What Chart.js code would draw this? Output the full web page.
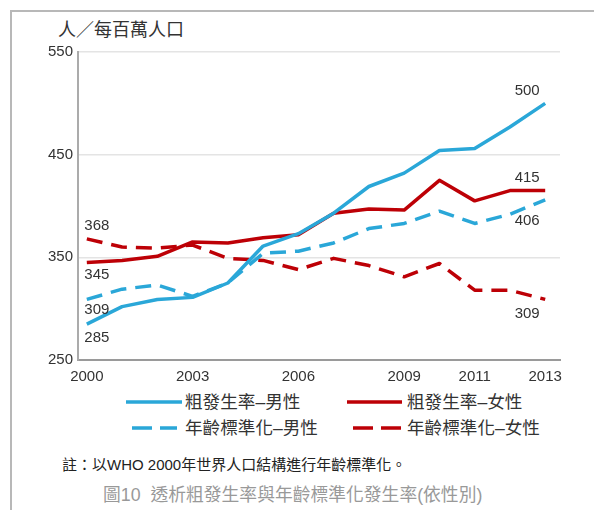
<!DOCTYPE html>
<html>
<head>
<meta charset="utf-8">
<script src="https://cdn.jsdelivr.net/npm/chart.js@4.4.0/dist/chart.umd.min.js"></script>
<style>
  body { margin: 0; background: #fff; }
  #page { position: relative; width: 594px; height: 510px; overflow: hidden;
    font-family: "Liberation Sans", Arial, "Noto Sans CJK TC", sans-serif; color: #333; }
  #frame { position: absolute; left: 10px; top: 10px; right: -10px; bottom: -10px;
    border-left: 2px solid #b8b8b8; border-top: 2px solid #b8b8b8; }
  #wrap { position: absolute; left: 0; top: 0; width: 594px; height: 390px; }
  .txt { position: absolute; white-space: nowrap; }
  .unit { left: 58px; top: 20px; font-size: 18px; line-height: 20px; color: #333; }
  .leg { font-size: 17.6px; line-height: 18px; color: #333; }
  .note { left: 62px; top: 456px; font-size: 15px; line-height: 18px; color: #222; }
  .cap { left: 103px; top: 485px; font-size: 17.8px; line-height: 20px; color: #999; }
  svg { position: absolute; }
</style>
</head>
<body>
<div id="page">
  <div id="frame"></div>
  <div class="txt unit">人／每百萬人口</div>
  <div id="wrap"><canvas id="chart"></canvas></div>
  <div id="legend"></div>
  <div class="txt note">註：以WHO 2000年世界人口結構進行年齡標準化。</div>
  <div class="txt cap">圖10&nbsp; 透析粗發生率與年齡標準化發生率(依性別)</div>
</div>
<script>
const years = [2000, 2001, 2002, 2003, 2004, 2005, 2006, 2007, 2008, 2009, 2010, 2011, 2012, 2013]
const crudeMale   = [285, 302, 309, 311, 325, 361, 373, 393, 419, 432, 454, 456, 477, 500]
const crudeFemale = [345, 347, 351, 365, 364, 369, 372, 393, 397, 396, 425, 405, 415, 415]
const asrMale     = [309, 319, 323, 312, 325, 354, 356, 364, 378, 383, 395, 383, 392, 406]
const asrFemale   = [368, 360, 359, 362, 349, 347, 338, 349, 342, 331, 344, 318, 318, 309]
const seriesNames = ['粗發生率–男性', '粗發生率–女性', '年齡標準化–男性', '年齡標準化–女性']
const xTicks = [2000, 2003, 2006, 2009, 2011, 2013]
const yTicks = [250, 350, 450, 550]

const blue = '#2aa7d8'
const red = '#bd0006'

function pts(vals) {
  return vals.map((v, i) => ({ x: years[i], y: v }))
}

// end-label offsets (first point, last point) per dataset
const firstOff = [[10, 13.5], [10, 12.5], [10, 10], [10, -13]]
const lastOff = [[-18, -12], [-18, -12.5], [-18, 21.5], [-18, 14]]

const endLabels = {
  id: 'endLabels',
  afterDatasetsDraw(chart) {
    const ctx = chart.ctx
    ctx.save()
    ctx.font = '15px "Liberation Sans", Arial, sans-serif'
    ctx.fillStyle = '#333'
    ctx.textAlign = 'center'
    ctx.textBaseline = 'middle'
    chart.data.datasets.forEach((ds, i) => {
      const meta = chart.getDatasetMeta(i)
      const a = meta.data[0], b = meta.data[meta.data.length - 1]
      ctx.fillText(String(ds.data[0].y), a.x + firstOff[i][0], a.y + firstOff[i][1])
      ctx.fillText(String(ds.data[ds.data.length - 1].y), b.x + lastOff[i][0], b.y + lastOff[i][1])
    })
    ctx.restore()
  }
}

const chart = new Chart(document.getElementById('chart'), {
  type: 'line',
  data: {
    datasets: [
      { label: seriesNames[0], data: pts(crudeMale), borderColor: blue, borderWidth: 3.5 },
      { label: seriesNames[1], data: pts(crudeFemale), borderColor: red, borderWidth: 3.5 },
      { label: seriesNames[2], data: pts(asrMale), borderColor: blue, borderWidth: 3.5, borderDash: [16, 9] },
      { label: seriesNames[3], data: pts(asrFemale), borderColor: red, borderWidth: 3.5, borderDash: [16, 9] }
    ]
  },
  options: {
    responsive: true,
    maintainAspectRatio: false,
    animation: false,
    layout: { padding: { top: 52, right: 34, left: 0, bottom: 0 } },
    elements: { point: { radius: 0 }, line: { tension: 0, borderJoinStyle: 'round' } },
    plugins: { legend: { display: false }, tooltip: { enabled: false } },
    scales: {
      x: {
        type: 'linear',
        min: 1999.75,
        max: 2013.42,
        afterBuildTicks: s => { s.ticks = xTicks.map(v => ({ value: v })) },
        afterFit: s => { s.height = 30 },
        grid: { display: false, drawTicks: false },
        border: { color: '#9a9a9a', width: 2 },
        ticks: {
          padding: 8,
          color: '#333',
          font: { size: 15, family: '"Liberation Sans", Arial, sans-serif' },
          maxRotation: 0,
          autoSkip: false,
          callback: v => String(v)
        }
      },
      y: {
        min: 250,
        max: 550,
        afterBuildTicks: s => { s.ticks = yTicks.map(v => ({ value: v })) },
        afterFit: s => { s.width = 78 },
        grid: { color: '#e4e4e4', lineWidth: 1.5, drawTicks: false },
        border: { color: '#ababab', width: 2 },
        ticks: {
          padding: 5,
          color: '#333',
          font: { size: 15, family: '"Liberation Sans", Arial, sans-serif' }
        }
      }
    }
  },
  plugins: [endLabels]
})

// legend built from the dataset styles
const legendPos = [
  { x: 126, w: 56, y: 402, tx: 185 },
  { x: 347, w: 55, y: 402, tx: 407 },
  { x: 132, w: 45, y: 428, tx: 185 },
  { x: 353, w: 49, y: 428, tx: 407 }
]
const legend = document.getElementById('legend')
chart.data.datasets.forEach((ds, i) => {
  const p = legendPos[i]
  const dash = ds.borderDash ? 'stroke-dasharray="20 8"' : ''
  legend.insertAdjacentHTML('beforeend',
    `<svg style="left:${p.x}px;top:${p.y - 4}px" width="${p.w}" height="8">` +
    `<line x1="0" y1="4" x2="${p.w}" y2="4" stroke="${ds.borderColor}" stroke-width="3.5" ${dash}/></svg>` +
    `<div class="txt leg" style="left:${p.tx}px;top:${p.y - 9}px">${ds.label}</div>`)
})
</script>
</body>
</html>
